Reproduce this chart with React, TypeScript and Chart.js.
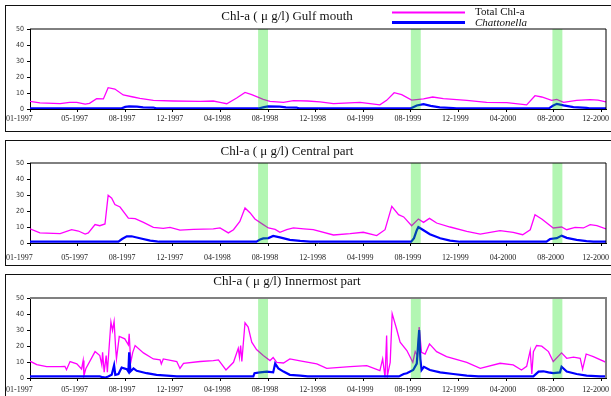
import React, { useEffect, useRef } from 'react';
import { Chart, registerables } from 'chart.js';
Chart.register(...registerables);

// x values are days since 1997-01-01
const tickDays = [0, 120, 240, 360, 480, 600, 720, 840, 960, 1080, 1200, 1320, 1440];
const bandStart = [575, 960, 1317];
const bandEnd = [600, 985, 1342];

// Gulf mouth
const gulfTotalDay = [0, 25, 76, 100, 118, 139, 150, 168, 185, 197, 214, 235, 260, 277, 311, 361, 429, 462, 479, 496, 521, 542, 559, 588, 605, 639, 664, 700, 731, 765, 832, 882, 899, 918, 937, 962, 992, 1015, 1042, 1101, 1151, 1202, 1252, 1273, 1290, 1315, 1328, 1345, 1378, 1412, 1432, 1452];
const gulfTotalVal = [4.8, 3.8, 3.4, 4.2, 4.2, 3.0, 3.5, 6.5, 6.3, 13.3, 12.5, 8.8, 7.5, 6.7, 5.4, 5.0, 4.8, 5.0, 4.2, 3.3, 6.9, 10.4, 9.0, 6.0, 4.8, 4.2, 5.2, 5.0, 4.4, 3.3, 4.2, 2.6, 5.4, 10.2, 9.0, 5.6, 6.3, 7.5, 6.5, 5.4, 4.2, 4.0, 2.6, 8.3, 7.5, 5.4, 6.0, 4.2, 5.4, 5.8, 5.6, 4.4];
const gulfChatDay = [0, 231, 240, 250, 270, 285, 311, 318, 578, 590, 600, 630, 645, 672, 678, 960, 975, 992, 1010, 1033, 1067, 1075, 1308, 1318, 1328, 1345, 1370, 1403, 1410, 1452];
const gulfChatVal = [0.4, 0.4, 1.3, 1.6, 1.5, 1.0, 0.9, 0.4, 0.4, 1.2, 1.6, 1.5, 1.0, 0.9, 0.4, 0.4, 2.2, 3.0, 2.0, 1.0, 0.6, 0.4, 0.4, 2.0, 3.2, 2.3, 1.2, 0.7, 0.4, 0.4];

// Central part
const centTotalDay = [0, 25, 76, 105, 122, 139, 147, 164, 176, 189, 197, 206, 214, 227, 248, 265, 286, 311, 336, 353, 378, 412, 462, 479, 500, 513, 529, 542, 555, 567, 588, 601, 618, 630, 647, 664, 690, 714, 765, 807, 840, 874, 895, 912, 929, 942, 962, 979, 992, 1007, 1025, 1059, 1101, 1135, 1185, 1218, 1242, 1261, 1273, 1290, 1319, 1340, 1353, 1374, 1395, 1412, 1429, 1452];
const centTotalVal = [8.8, 6.3, 5.8, 8.3, 7.5, 5.6, 6.3, 11.5, 10.8, 11.9, 29.8, 28, 24, 22.5, 15.6, 15.2, 12.9, 9.8, 9.2, 9.8, 8.1, 8.5, 8.8, 9.4, 6.3, 8.3, 13.5, 21.9, 18.8, 15, 11.5, 9.4, 8.5, 6.7, 8.3, 9.4, 8.8, 8.3, 5.0, 5.8, 6.7, 4.6, 8.3, 22.9, 17.7, 16.3, 10.8, 15, 12.9, 15.4, 12.5, 10, 7.3, 5.6, 7.7, 6.7, 5.2, 8.3, 17.7, 15, 9.4, 10, 8.3, 9.8, 9.4, 11.5, 10.8, 8.8];
const centChatDay = [0, 223, 232, 244, 256, 277, 303, 319, 325, 571, 580, 588, 601, 613, 630, 655, 681, 706, 961, 968, 975, 979, 992, 1008, 1034, 1059, 1084, 1302, 1311, 1328, 1340, 1353, 1378, 1403, 1420, 1452];
const centChatVal = [0.8, 0.8, 2.5, 4.2, 4.2, 3.0, 1.5, 1.0, 0.8, 0.8, 2.2, 2.9, 3.1, 4.4, 3.5, 2.0, 1.3, 0.8, 0.8, 3, 8, 10, 8, 5.5, 3, 1.5, 0.8, 0.8, 2.5, 3.0, 4.6, 3.2, 2.0, 1.2, 0.8, 0.8];

// Innermost part
const innTotalDay = [0, 17, 42, 76, 88, 92, 101, 118, 130, 134, 136, 141, 164, 176, 181, 183, 187, 192, 195, 204, 208, 212, 216, 218, 225, 239, 248, 250, 254, 259, 265, 286, 311, 328, 331, 336, 370, 378, 387, 429, 462, 475, 494, 513, 525, 528, 531, 534, 542, 550, 559, 571, 588, 605, 613, 622, 639, 655, 681, 723, 748, 807, 849, 882, 889, 895, 899, 901, 908, 913, 924, 933, 950, 965, 971, 977, 981, 987, 996, 1007, 1025, 1050, 1101, 1135, 1185, 1218, 1239, 1252, 1261, 1265, 1269, 1277, 1290, 1307, 1319, 1340, 1353, 1370, 1387, 1393, 1402, 1420, 1452];
const innTotalVal = [10.5, 8.4, 7.1, 7.1, 7.3, 5.2, 10.3, 8.8, 5.6, 10.9, 1.5, 6.0, 16.5, 14.0, 8.2, 16.0, 3.6, 14.0, 3.6, 35.0, 29.7, 35.4, 18.2, 12.0, 26.0, 24.5, 20.7, 27.6, 9.8, 16.0, 20.3, 15.7, 11.9, 11.3, 8.8, 11.9, 10.3, 6.0, 9.2, 10.3, 10.9, 11.3, 5.0, 9.8, 18.6, 13.0, 20.3, 10.3, 34.5, 31.8, 22.4, 17.8, 14.0, 10.9, 12.8, 9.8, 9.4, 11.9, 10.7, 8.8, 6.0, 7.1, 7.7, 4.6, 11.9, 0.4, 26.6, 1.5, 9.8, 40.2, 30.8, 22.4, 17.2, 9.8, 16.5, 14.0, 31.8, 16.1, 15.0, 21.3, 16.5, 13.4, 9.8, 6.0, 9.2, 8.2, 5.0, 7.3, 17.2, 2.5, 16.5, 20.3, 19.9, 16.5, 10.3, 15.7, 12.3, 13.0, 12.3, 5.6, 15.0, 13.4, 9.8];
const innChatDay = [0, 176, 183, 189, 197, 206, 212, 215, 223, 231, 244, 248, 250, 253, 261, 269, 294, 319, 345, 370, 563, 566, 580, 597, 613, 618, 626, 639, 655, 681, 700, 930, 942, 950, 966, 975, 981, 984, 987, 993, 1008, 1034, 1067, 1101, 1130, 1269, 1282, 1294, 1307, 1319, 1336, 1340, 1353, 1378, 1403, 1437, 1452];
const innChatVal = [1.0, 1.0, 0.5, 0.2, 1.0, 2.0, 8.0, 2.0, 2.5, 6.5, 5.5, 4.0, 16.0, 4.0, 6.0, 4.5, 3.0, 2.0, 1.5, 1.0, 1.0, 3.0, 3.5, 4.0, 3.5, 9.0, 6.0, 4.0, 2.0, 1.5, 1.0, 1.0, 2.5, 3.0, 5.0, 9.0, 30.0, 12.0, 5.0, 7.0, 5.0, 3.5, 2.5, 1.5, 1.0, 1.0, 4.0, 4.2, 3.5, 3.0, 3.5, 7.0, 4.0, 2.5, 1.5, 1.0, 1.0];

const W = 611;
const SERIF = '"Liberation Serif", "Times New Roman", serif';
const NARROW = '"Liberation Sans Narrow", "Arial Narrow", "DejaVu Sans Condensed", sans-serif';

function pts(days: number[], vals: number[]) {
  return days.map((d, i) => ({ x: d, y: vals[i] }));
}

function fmt(v: number) {
  const d = new Date(Date.UTC(1997, 0, 1) + v * 86400000);
  const m = d.getUTCMonth() + 1;
  return (m < 10 ? '0' : '') + m + '-' + d.getUTCFullYear();
}

type PanelProps = {
  title: string;
  totalDays: number[];
  totalVals: number[];
  chatDays: number[];
  chatVals: number[];
  top: number;
  height: number;
  padTop: number;
  xH: number;
  titleY: number;
  labelDy: number;
  legend: boolean;
  frame: string;
  frameW: number;
};

function Panel(p: PanelProps) {
  const ref = useRef<HTMLCanvasElement | null>(null);
  useEffect(() => {
    if (!ref.current) return;
    const bands = {
      id: 'bands',
      afterDatasetsDraw(chart: any) {
        const { ctx, chartArea, scales } = chart;
        ctx.save();
        ctx.fillStyle = 'rgba(0,225,0,0.3)';
        for (let i = 0; i < bandStart.length; i++) {
          const a = scales.x.getPixelForValue(bandStart[i]);
          const b = scales.x.getPixelForValue(bandEnd[i]);
          ctx.fillRect(a, chartArea.top, b - a, chartArea.bottom - chartArea.top);
        }
        ctx.restore();
      },
    };
    const deco = {
      id: 'deco',
      afterDraw(chart: any) {
        const { ctx, chartArea, scales } = chart;
        ctx.save();
        ctx.strokeStyle = p.frame;
        ctx.lineWidth = p.frameW;
        ctx.beginPath();
        ctx.moveTo(chartArea.left, chartArea.top);
        ctx.lineTo(chartArea.right, chartArea.top);
        ctx.lineTo(chartArea.right, chartArea.bottom);
        ctx.stroke();
        // x tick labels
        ctx.fillStyle = '#222';
        ctx.font = '8px ' + SERIF;
        ctx.textAlign = 'center';
        ctx.textBaseline = 'middle';
        tickDays.forEach((v, i) => {
          const label = fmt(v);
          const w = ctx.measureText(label).width;
          let cx = scales.x.getPixelForValue(v) - 3;
          if (i === 0) cx = 6 + w / 2;
          if (cx + w / 2 > 609) cx = 609 - w / 2;
          ctx.fillText(label, cx, chartArea.bottom + p.labelDy);
        });
        ctx.fillStyle = '#111';
        ctx.font = '13px ' + SERIF;
        ctx.textAlign = 'center';
        ctx.textBaseline = 'middle';
        ctx.fillText(p.title, 287, p.titleY);
        if (p.legend) {
          ctx.lineWidth = 2;
          ctx.strokeStyle = '#ff00ff';
          ctx.beginPath();
          ctx.moveTo(392, 12.5);
          ctx.lineTo(465, 12.5);
          ctx.stroke();
          ctx.lineWidth = 3;
          ctx.strokeStyle = '#0000ff';
          ctx.beginPath();
          ctx.moveTo(392, 22.5);
          ctx.lineTo(465, 22.5);
          ctx.stroke();
          ctx.textAlign = 'left';
          ctx.font = '11px ' + SERIF;
          ctx.fillText('Total Chl-a', 475, 12);
          ctx.font = 'italic 11px ' + SERIF;
          ctx.fillText('Chattonella', 475, 23);
        }
        ctx.restore();
      },
    };
    const chart = new Chart(ref.current, {
      type: 'line',
      data: {
        datasets: [
          {
            label: 'Chattonella',
            data: pts(p.chatDays, p.chatVals),
            borderColor: '#0000ff',
            backgroundColor: '#0000ff',
            borderWidth: 2.2,
            pointRadius: 0,
            order: 0,
          },
          {
            label: 'Total Chl-a',
            data: pts(p.totalDays, p.totalVals),
            borderColor: '#ff00ff',
            backgroundColor: '#ff00ff',
            borderWidth: 1.3,
            pointRadius: 0,
            order: 1,
          },
        ],
      },
      options: {
        animation: false,
        responsive: false,
        maintainAspectRatio: false,
        layout: { padding: { left: 0, right: 5, top: p.padTop, bottom: 0 } },
        plugins: { legend: { display: false }, title: { display: false }, tooltip: { enabled: false } },
        scales: {
          x: {
            type: 'linear',
            min: 0,
            max: 1452,
            afterBuildTicks: (s: any) => {
              s.ticks = tickDays.map((v) => ({ value: v }));
            },
            afterFit: (s: any) => {
              s.height = p.xH;
              s.paddingLeft = 0;
              s.paddingRight = 0;
            },
            ticks: { display: false },
            grid: { drawOnChartArea: false, tickLength: 3, color: '#000' },
            border: { color: '#000', width: 1 },
          },
          y: {
            min: 0,
            max: 50,
            afterFit: (s: any) => {
              s.width = 30;
            },
            ticks: { stepSize: 10, font: { family: NARROW, size: 7 }, color: '#333', padding: 3 },
            grid: { drawOnChartArea: false, tickLength: 3, color: '#000' },
            border: { color: '#000', width: 1 },
          },
        },
      },
      plugins: [bands, deco],
    } as any);
    return () => chart.destroy();
  }, []);
  return (
    <canvas
      ref={ref}
      width={W}
      height={p.height}
      style={{ position: 'absolute', left: 0, top: p.top, width: W, height: p.height }}
    />
  );
}

export default function App() {
  const box = (top: number, height: number): React.CSSProperties => ({
    position: 'absolute',
    left: 5,
    top,
    width: 608,
    height,
    border: '1.5px solid #111',
    boxSizing: 'border-box',
  });
  return (
    <div style={{ position: 'fixed', left: 0, top: 0, width: W, height: 396, background: '#fff', overflow: 'hidden' }}>
      <div style={box(5, 127)} />
      <div style={box(140, 126)} />
      <div style={box(274, 130)} />
      <Panel title="Chl-a ( μ g/l) Gulf mouth" totalDays={gulfTotalDay} totalVals={gulfTotalVal} chatDays={gulfChatDay} chatVals={gulfChatVal}
        top={0} height={132} padTop={29} xH={23} titleY={17} labelDy={10} legend={true} frame="#000" frameW={1} />
      <Panel title="Chl-a ( μ g/l) Central part" totalDays={centTotalDay} totalVals={centTotalVal} chatDays={centChatDay} chatVals={centChatVal}
        top={134} height={132} padTop={29} xH={23} titleY={18} labelDy={15} legend={false} frame="#000" frameW={1} />
      <Panel title="Chl-a ( μ g/l) Innermost part" totalDays={innTotalDay} totalVals={innTotalVal} chatDays={innChatDay} chatVals={innChatVal}
        top={268} height={128} padTop={30} xH={18} titleY={14} labelDy={12} legend={false} frame="#808080" frameW={2} />
    </div>
  );
}
